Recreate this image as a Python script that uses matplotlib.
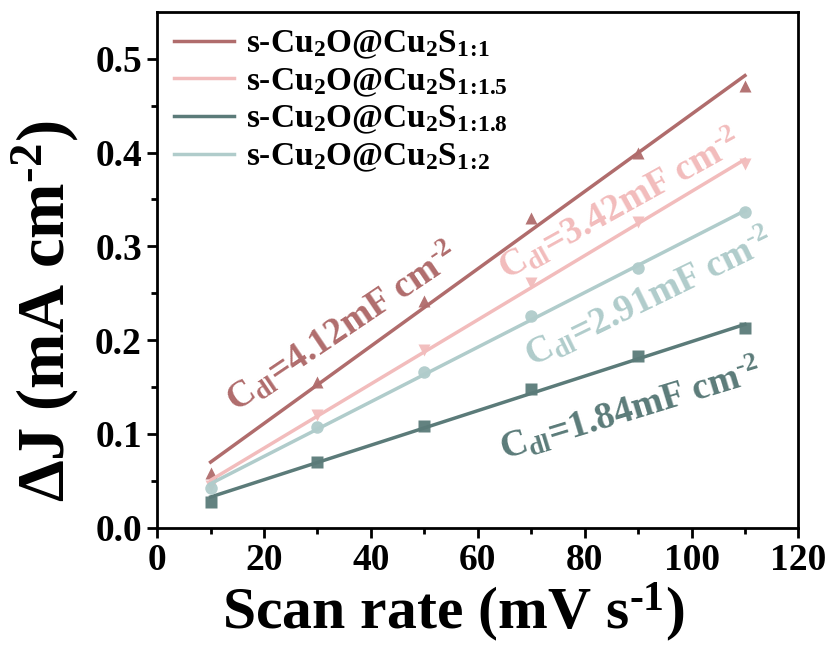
import numpy as np
import matplotlib
matplotlib.use('Agg')
import matplotlib.pyplot as plt

plt.rcParams['font.family'] = 'Liberation Serif'
plt.rcParams['font.weight'] = 'bold'
plt.rcParams['axes.labelweight'] = 'bold'
plt.rcParams['mathtext.fontset'] = 'custom'
plt.rcParams['mathtext.rm'] = 'Liberation Serif:bold'
plt.rcParams['mathtext.it'] = 'Liberation Serif:bold:italic'
plt.rcParams['mathtext.bf'] = 'Liberation Serif:bold'
plt.rcParams['mathtext.default'] = 'rm'

# scan rates (mV/s) and current density differences (mA/cm2)
scan_rate = [10, 30, 50, 70, 90, 110]
dj_11  = [0.058, 0.155, 0.242, 0.330, 0.400, 0.471]
dj_115 = [0.045, 0.120, 0.190, 0.261, 0.326, 0.388]
dj_118 = [0.027, 0.070, 0.108, 0.148, 0.183, 0.213]
dj_12  = [0.042, 0.107, 0.166, 0.226, 0.277, 0.337]

labels = [r's-Cu$_2$O@Cu$_2$S$_{1\!:\!1}$',
          r's-Cu$_2$O@Cu$_2$S$_{1\!:\!1.5}$',
          r's-Cu$_2$O@Cu$_2$S$_{1\!:\!1.8}$',
          r's-Cu$_2$O@Cu$_2$S$_{1\!:\!2}$']
cdl = [4.12, 3.42, 1.84, 2.91]   # mF cm-2, slope of each fit
colors = ['#b06c6c', '#f2bcbc', '#5b7b79', '#b0cccb']
markers = ['^', 'v', 's', 'o']

HY = '\u2010'  # plain hyphen for the exponents

# annotation placement (x, y, rotation)
ann_pos = [(34.5, 0.214, 34), (86.5, 0.345, 29), (88.5, 0.127, 17), (92, 0.246, 26)]

fig = plt.figure(figsize=(8.36, 6.54), dpi=100)
ax = fig.add_axes([0.188, 0.193, 0.767, 0.789])

x = np.array(scan_rate)
for ys, lab, c, m, k, (tx, ty, rot) in zip([dj_11, dj_115, dj_118, dj_12], labels,
                                          colors, markers, cdl, ann_pos):
    ys = np.array(ys)
    slope = k * 1e-3
    b = ys.mean() - slope * x.mean()
    ax.plot(x, ys, m, color=c, ms=9, mec='none', alpha=0.95)
    ax.plot(x, slope * x + b, '-', color=c, lw=2.5, label=lab)
    ax.text(tx, ty, r'C$_{\rm dl}$=%.2fmF cm$^{%s2}$' % (k, HY), color=c, fontsize=27,
            rotation=rot, ha='center', va='center', rotation_mode='anchor')

ax.set_xlim(0, 120)
ax.set_ylim(0, 0.55)
ax.set_xticks(np.arange(0, 121, 20))
ax.set_xticks(np.arange(10, 120, 20), minor=True)
ax.set_yticks(np.arange(0, 0.51, 0.1))
ax.set_yticks(np.arange(0.05, 0.55, 0.1), minor=True)
ax.tick_params(which='major', direction='out', length=7, width=2, labelsize=27, pad=4)
ax.tick_params(which='minor', direction='out', length=4, width=2)
for s in ax.spines.values():
    s.set_linewidth(2)

ax.set_xlabel(r'Scan rate (mV s$^{%s1}$)' % HY, fontsize=43, fontweight='bold')
ax.set_ylabel(r'$\Delta$J (mA cm$^{%s2}$)' % HY, fontsize=48, fontweight='bold')
ax.xaxis.set_label_coords(0.461, -0.163, transform=ax.transAxes)
ax.yaxis.set_label_coords(-0.175, 0.42, transform=ax.transAxes)
ax.xaxis.label.set_va('center')
ax.yaxis.label.set_va('center')

ax.legend(loc='upper left', frameon=False, fontsize=24, handlelength=1.8,
          handletextpad=0.35, labelspacing=0.15, borderaxespad=0.1,
          bbox_to_anchor=(0.0, 1.0))

fig.savefig('out.png', dpi=100)
